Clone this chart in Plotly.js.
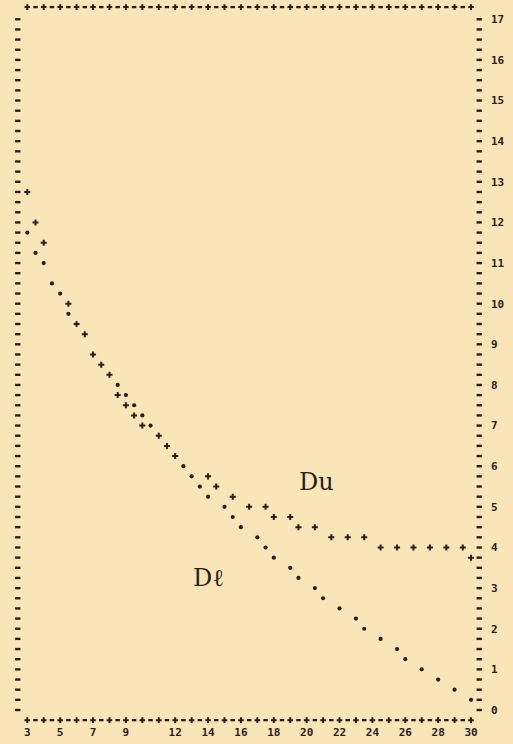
<!DOCTYPE html>
<html>
<head>
<meta charset="utf-8">
<script src="https://cdn.plot.ly/plotly-3.0.1.min.js"></script>
<style>
  html, body { margin: 0; padding: 0; background: #fae5b9; }
  #chart { width: 513px; height: 744px; }
</style>
</head>
<body>
<div id="chart"></div>
<script>
// ---- data ----
const duX = [3, 3.5, 4, 5.5, 6, 6.5, 7, 7.5, 8, 8.5, 9, 9.5, 10, 11, 11.5, 12, 14, 14.5, 15.5, 16.5, 17.5, 18, 19, 19.5, 20.5, 21.5, 22.5, 23.5, 24.5, 25.5, 26.5, 27.5, 28.5, 29.5, 30];
const duY = [12.75, 12, 11.5, 10, 9.5, 9.25, 8.75, 8.5, 8.25, 7.75, 7.5, 7.25, 7, 6.75, 6.5, 6.25, 5.75, 5.5, 5.25, 5, 5, 4.75, 4.75, 4.5, 4.5, 4.25, 4.25, 4.25, 4, 4, 4, 4, 4, 4, 3.75];

const dlX = [3, 3.5, 4, 4.5, 5, 5.5, 8.5, 9, 9.5, 10, 10.5, 12.5, 13, 13.5, 14, 15, 15.5, 16, 17, 17.5, 18, 19, 19.5, 20.5, 21, 22, 23, 23.5, 24.5, 25.5, 26, 27, 28, 29, 30];
const dlY = [11.75, 11.25, 11, 10.5, 10.25, 9.75, 8, 7.75, 7.5, 7.25, 7, 6, 5.75, 5.5, 5.25, 5, 4.75, 4.5, 4.25, 4, 3.75, 3.5, 3.25, 3, 2.75, 2.5, 2.25, 2, 1.75, 1.5, 1.25, 1, 0.75, 0.5, 0.25];

const xTickVals = [3, 5, 7, 9, 12, 14, 16, 18, 20, 22, 24, 26, 28, 30];
const xTickText = ['3', '5', '7', '9', '12', '14', '16', '18', '20', '22', '24', '26', '28', '30'];
const yMin = 0, yMax = 17;
const xFirst = 3, xLast = 30;

const seriesLabels = ['Du', 'D\u2113'];
const labelX = [20.6, 14.0];
const labelY = [5.6, 3.25];

// ---- styling ----
const ink = '#2b1d18';
const bg = '#fae5b9';

// printer frame: "+-+-" rows above/below, "-" columns left/right (built from the axis extents)
const frameTopY = 17.3, frameBotY = -0.25;
const frameLeftX = 2.42, frameRightX = 30.5;
const plusX = [], dashX = [], colY = [];
for (let v = xFirst; v <= xLast + 1e-9; v += 0.5) {
  if (Math.abs(v - Math.round(v)) < 1e-9) plusX.push(v); else dashX.push(v);
}
for (let v = yMin; v <= yMax + 1e-9; v += 0.25) colY.push(v);

const plusMarker = { symbol: 'cross-thin', size: 4.3, color: ink, line: { color: ink, width: 2 } };
const framePlus = { symbol: 'cross-thin', size: 4.0, color: ink, line: { color: ink, width: 2 } };
const rowDash = { symbol: 'line-ew', size: 3.2, color: ink, line: { color: ink, width: 2.3 } };
const colDash = { symbol: 'line-ew', size: 3.8, color: ink, line: { color: ink, width: 2.4 } };

function glyphs(xs, ys, marker) {
  return { x: xs, y: ys, type: 'scatter', mode: 'markers', cliponaxis: false, hoverinfo: 'skip', marker: marker };
}

const traces = [
  glyphs(plusX, plusX.map(() => frameTopY), framePlus),
  glyphs(dashX, dashX.map(() => frameTopY), rowDash),
  glyphs(plusX, plusX.map(() => frameBotY), framePlus),
  glyphs(dashX, dashX.map(() => frameBotY), rowDash),
  glyphs(colY.map(() => frameLeftX), colY, colDash),
  glyphs(colY.map(() => frameRightX), colY, colDash),
  Object.assign(glyphs(duX, duY, plusMarker), { name: 'Du' }),
  Object.assign(glyphs(dlX, dlY, { symbol: 'circle', size: 4.2, color: ink, line: { width: 0 } }), { name: 'D\u2113' })
];

const tickFont = { family: 'DejaVu Sans Mono', size: 11, color: ink, weight: 'bold' };

const layout = {
  width: 513, height: 744,
  margin: { l: 10, r: 27, t: 4, b: 23, pad: 0 },
  paper_bgcolor: bg, plot_bgcolor: bg,
  showlegend: false, hovermode: false,
  xaxis: {
    range: [1.9473, 30.913], showgrid: false, zeroline: false, showline: false,
    tickmode: 'array', tickvals: xTickVals, ticktext: xTickText,
    ticks: '', ticklabelstandoff: 3, tickfont: tickFont
  },
  yaxis: {
    range: [-0.2707, 17.376], side: 'right', showgrid: false, zeroline: false, showline: false,
    tick0: 0, dtick: 1, ticks: '', ticklabelstandoff: 4, tickfont: tickFont
  },
  annotations: seriesLabels.map((t, i) => ({
    x: labelX[i], y: labelY[i], xref: 'x', yref: 'y', text: t, showarrow: false,
    xanchor: 'center', yanchor: 'middle',
    font: { family: 'DejaVu Serif', size: 24, color: ink }
  }))
};

Plotly.newPlot('chart', traces, layout, { staticPlot: true, displayModeBar: false });
</script>
</body>
</html>
